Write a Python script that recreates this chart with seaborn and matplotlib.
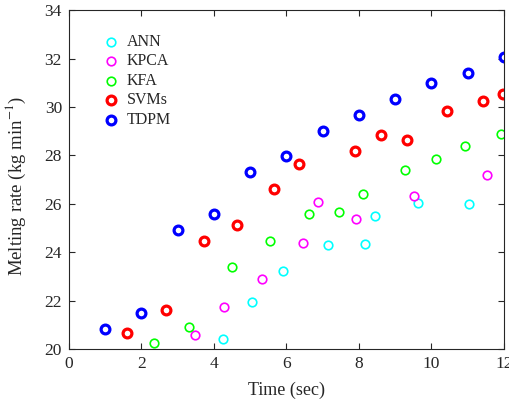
import numpy as np
import pandas as pd
import seaborn as sns
import matplotlib.pyplot as plt

# values
ann_x = [4.24, 5.05, 5.91, 7.15, 8.18, 8.43, 9.63, 11.03]
ann_y = [20.40, 21.93, 23.24, 24.30, 24.34, 25.48, 26.05, 25.98]
kpca_x = [3.47, 4.29, 5.32, 6.46, 6.88, 7.91, 9.53, 11.53]
kpca_y = [20.56, 21.72, 22.91, 24.39, 26.08, 25.37, 26.32, 27.18]
kfa_x = [2.35, 3.31, 4.51, 5.55, 6.61, 7.46, 8.10, 9.28, 10.13, 10.93, 11.92]
kfa_y = [20.24, 20.90, 23.39, 24.45, 25.58, 25.65, 26.40, 27.38, 27.87, 28.38, 28.90]
svm_x = [1.60, 2.67, 3.72, 4.63, 5.66, 6.35, 7.88, 8.60, 9.32, 10.43, 11.42, 11.98]
svm_y = [20.65, 21.60, 24.46, 25.12, 26.60, 27.64, 28.19, 28.86, 28.65, 29.85, 30.26, 30.55]
tdpm_x = [1, 2, 3, 4, 5, 6, 7, 8, 9, 10, 11, 12]
tdpm_y = [20.81, 21.47, 24.92, 25.58, 27.30, 27.98, 29.02, 29.67, 30.34, 30.99, 31.40, 32.07]

series = [
    ("ANN", ann_x, ann_y, "cyan", 1.2, 38),
    ("KPCA", kpca_x, kpca_y, "magenta", 1.2, 38),
    ("KFA", kfa_x, kfa_y, "lime", 1.2, 38),
    ("SVMs", svm_x, svm_y, "red", 2.3, 40),
    ("TDPM", tdpm_x, tdpm_y, "blue", 2.3, 40),
]

sns.set_style("ticks")
plt.rcParams['font.family'] = ['Liberation Serif', 'DejaVu Serif']
plt.rcParams['mathtext.fontset'] = 'stix'

fig = plt.figure(figsize=(5.1, 4.04), dpi=100)
ax = fig.add_axes([0.1353, 0.136, 0.8527, 0.839])

for name, xs, ys, col, lw, sz in series:
    df = pd.DataFrame({"x": xs, "y": ys})
    sns.scatterplot(data=df, x="x", y="y", ax=ax, marker="o", s=sz,
                    facecolor="white", edgecolor=col, linewidth=lw, label=name)

ax.set_xlim(0, 12)
ax.set_ylim(20, 34)
ax.set_xticks(np.arange(0, 13, 2))
ax.set_yticks(np.arange(20, 35, 2))
ax.tick_params(direction="in", top=True, right=True, labelsize=12.5, length=4, width=0.8, pad=5)
for sp in ax.spines.values():
    sp.set_linewidth(0.8)
ax.set_xlabel("Time (sec)", fontsize=13, labelpad=7)
ax.set_ylabel("Melting rate (kg min$^{-1}$)", fontsize=13.5)
ax.yaxis.set_label_coords(-0.094, 0.48)

ax.legend(loc="upper left", bbox_to_anchor=(0.063, 0.949), frameon=False, fontsize=11.5,
          handlelength=1.0, handletextpad=0.5, labelspacing=0.22, borderaxespad=0)

fig.savefig("out.png", dpi=100)
